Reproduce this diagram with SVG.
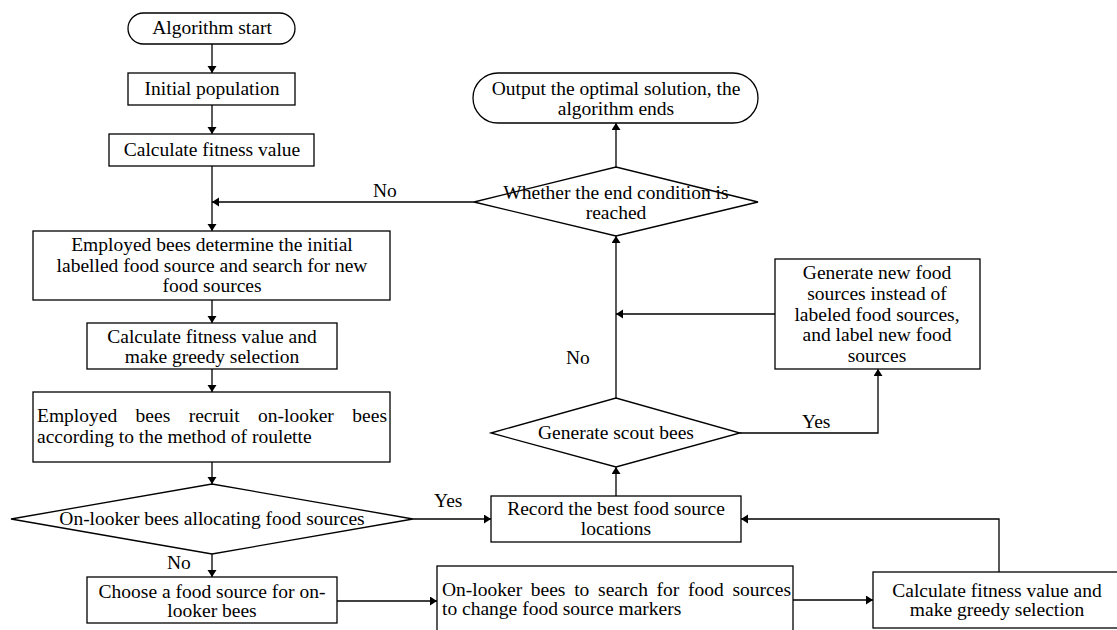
<svg xmlns="http://www.w3.org/2000/svg" width="1117" height="630" viewBox="0 0 1117 630">
<defs>
<style>
.n{fill:#fff;stroke:#000;stroke-width:1.3}
.t{font-family:"Liberation Serif","Times New Roman",serif;font-size:19.5px;fill:#000}
.c{text-anchor:middle}
.r{text-anchor:end}
.e{fill:none;stroke:#000;stroke-width:1.3}
</style>
<marker id="a" markerUnits="userSpaceOnUse" markerWidth="10" markerHeight="10" refX="7" refY="4.5" orient="auto">
<path d="M0,0 L7,4.5 L0,9 z" fill="#000"/>
</marker>
</defs>
<rect width="1117" height="630" fill="#fff"/>

<g id="connectors" class="e">
<path d="M212,44 V73" marker-end="url(#a)"/>
<path d="M212,105 V134" marker-end="url(#a)"/>
<path d="M212,166 V231" marker-end="url(#a)"/>
<path d="M474,202 H212" marker-end="url(#a)"/>
<path d="M212,300 V323" marker-end="url(#a)"/>
<path d="M212,369 V392" marker-end="url(#a)"/>
<path d="M212,462 V484" marker-end="url(#a)"/>
<path d="M212,554 V577" marker-end="url(#a)"/>
<path d="M413,519 H491" marker-end="url(#a)"/>
<path d="M337,601 H437" marker-end="url(#a)"/>
<path d="M793,600 H873" marker-end="url(#a)"/>
<path d="M999,572 V519 H741" marker-end="url(#a)"/>
<path d="M616,496 V467" marker-end="url(#a)"/>
<path d="M740,433 H878 V369" marker-end="url(#a)"/>
<path d="M616,398 V236" marker-end="url(#a)"/>
<path d="M775,314 H616" marker-end="url(#a)"/>
<path d="M616,167 V123" marker-end="url(#a)"/>
</g>

<g id="labels" class="t">
<text x="373" y="197">No</text>
<text x="566" y="364">No</text>
<text x="167" y="569">No</text>
<text x="434" y="507">Yes</text>
<text x="802" y="428">Yes</text>
</g>

<g id="start">
<rect class="n" x="128" y="13" width="167" height="31" rx="15.5"/>
<text class="t c" x="212" y="34">Algorithm start</text>
</g>

<g id="init">
<rect class="n" x="128" y="73" width="167" height="32"/>
<text class="t c" x="212" y="95">Initial population</text>
</g>

<g id="calc1">
<rect class="n" x="109" y="134" width="205" height="32"/>
<text class="t c" x="212" y="156">Calculate fitness value</text>
</g>

<g id="employed">
<rect class="n" x="33" y="231" width="357" height="69"/>
<text class="t c" x="212" y="251">Employed bees determine the initial</text>
<text class="t c" x="212" y="272">labelled food source and search for new</text>
<text class="t c" x="212" y="292">food sources</text>
</g>

<g id="calc2">
<rect class="n" x="87" y="323" width="250" height="46"/>
<text class="t c" x="212" y="343">Calculate fitness value and</text>
<text class="t c" x="212" y="363">make greedy selection</text>
</g>

<g id="recruit">
<rect class="n" x="33" y="392" width="357" height="70"/>
<text class="t" y="422"><tspan x="37">Employed</tspan><tspan x="135.6">bees</tspan><tspan x="188.7">recruit</tspan><tspan x="258">on-looker</tspan></text>
<text class="t r" x="387" y="422">bees</text>
<text class="t" x="37" y="443">according to the method of roulette</text>
</g>

<g id="allocate">
<polygon class="n" points="11,519 212,484 413,519 212,554"/>
<text class="t c" x="212" y="525">On-looker bees allocating food sources</text>
</g>

<g id="choose">
<rect class="n" x="87" y="577" width="250" height="46"/>
<text class="t c" x="212" y="598">Choose a food source for on-</text>
<text class="t c" x="212" y="617">looker bees</text>
</g>

<g id="search">
<rect class="n" x="437" y="566" width="356" height="80"/>
<text class="t" y="596"><tspan x="442">On-looker</tspan><tspan x="530.8">bees</tspan><tspan x="574.2">to</tspan><tspan x="598.1">search</tspan><tspan x="656.6">for</tspan><tspan x="688">food</tspan></text>
<text class="t r" x="791" y="596">sources</text>
<text class="t" x="442" y="615">to change food source markers</text>
</g>

<g id="calc3">
<rect class="n" x="873" y="572" width="252" height="56"/>
<text class="t c" x="997" y="597">Calculate fitness value and</text>
<text class="t c" x="997" y="616">make greedy selection</text>
</g>

<g id="record">
<rect class="n" x="491" y="496" width="250" height="46"/>
<text class="t c" x="616" y="515">Record the best food source</text>
<text class="t c" x="616" y="535">locations</text>
</g>

<g id="scout">
<polygon class="n" points="491,433 616,398 740,433 616,467"/>
<text class="t c" x="616" y="439">Generate scout bees</text>
</g>

<g id="generate">
<rect class="n" x="775" y="259" width="205" height="110"/>
<text class="t c" x="877" y="279">Generate new food</text>
<text class="t c" x="877" y="300">sources instead of</text>
<text class="t c" x="877" y="320.5">labeled food sources,</text>
<text class="t c" x="877" y="341">and label new food</text>
<text class="t c" x="877" y="362">sources</text>
</g>

<g id="endcheck">
<polygon class="n" points="474,202 616,167 758,202 616,236"/>
<text class="t c" x="616" y="199">Whether the end condition is</text>
<text class="t c" x="616" y="219">reached</text>
</g>

<g id="output">
<rect class="n" x="473" y="73" width="285" height="50" rx="25"/>
<text class="t c" x="616" y="95">Output the optimal solution, the</text>
<text class="t c" x="616" y="115">algorithm ends</text>
</g>
</svg>
